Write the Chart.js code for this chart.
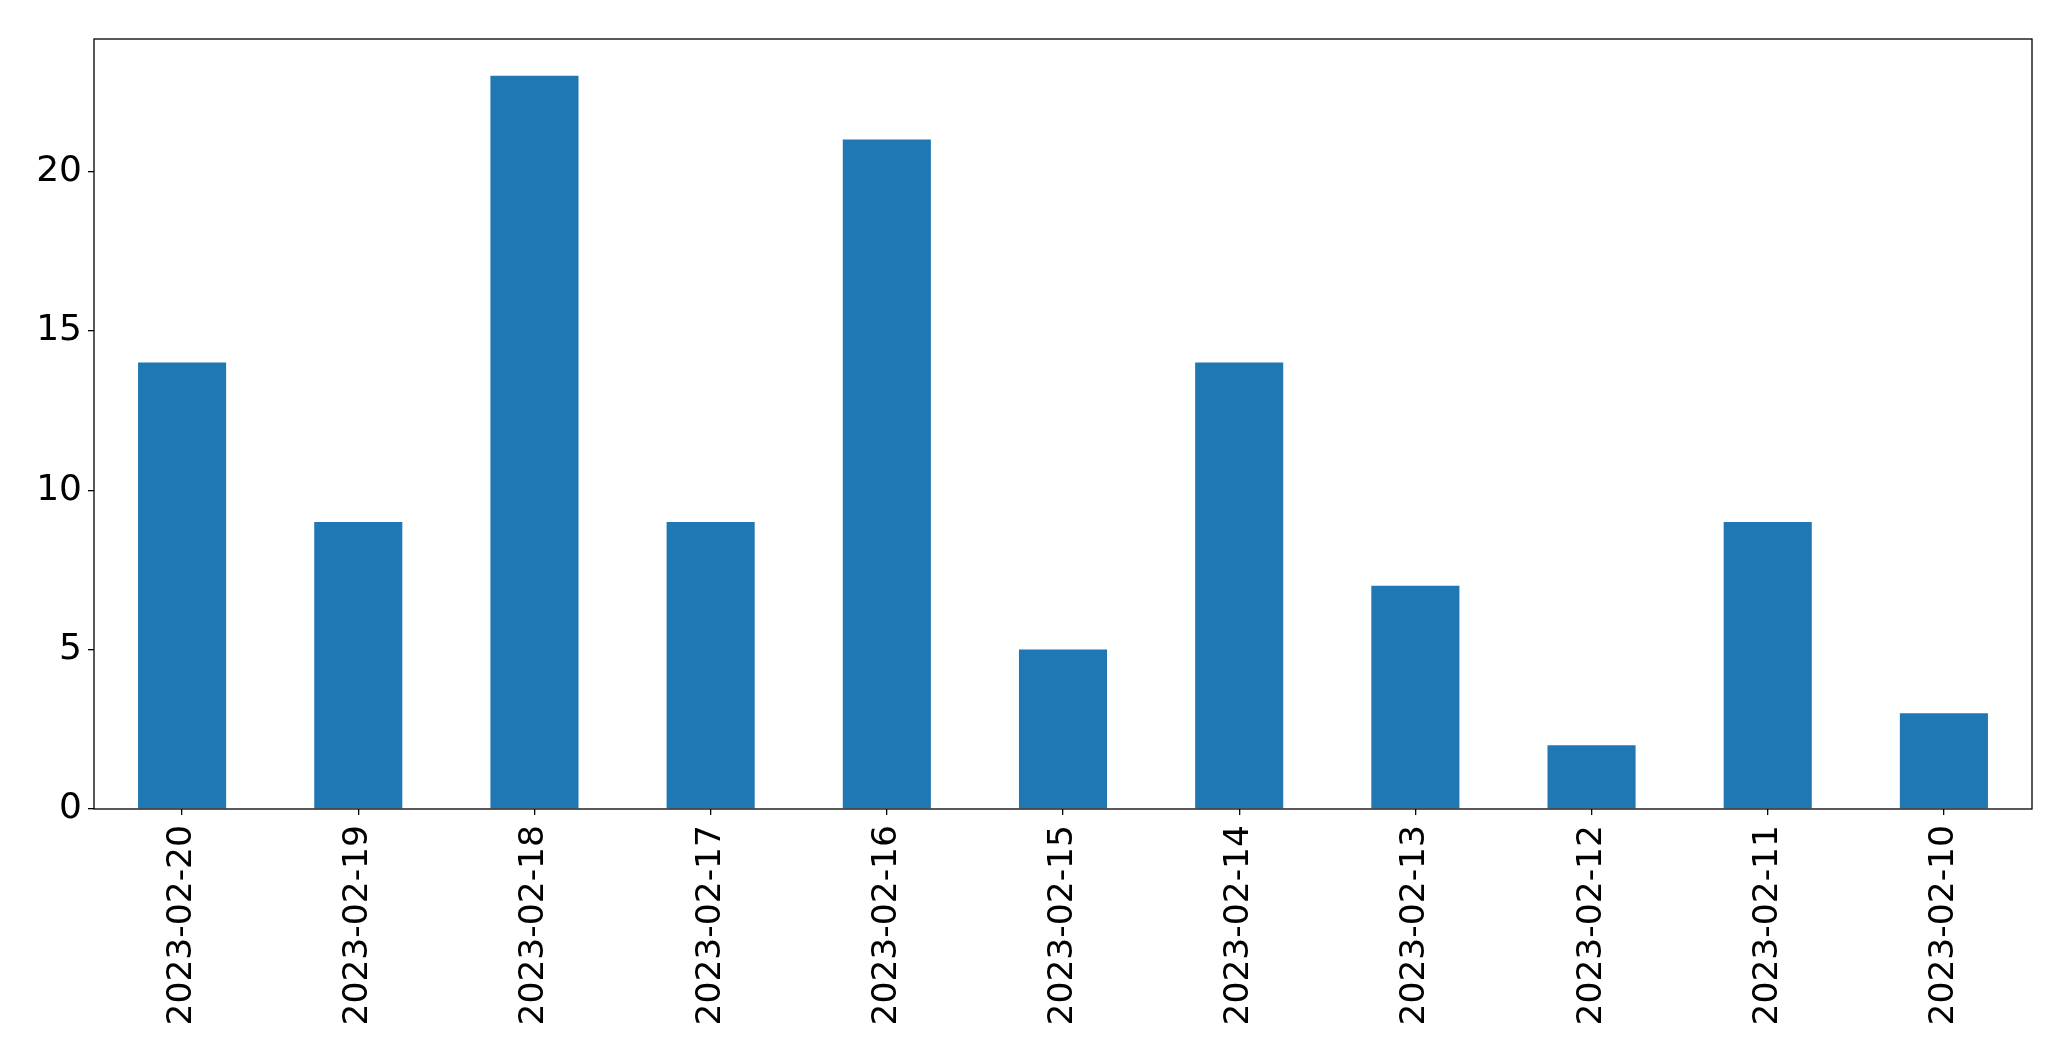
<!DOCTYPE html>
<html>
<head>
<meta charset="utf-8">
<script src="https://cdn.jsdelivr.net/npm/chart.js@4"></script>
<style>
  html, body { margin: 0; padding: 0; background: #fff; }
  canvas { display: block; }
</style>
</head>
<body>
<canvas id="myChart" width="2071" height="1061"></canvas>
<script>
'use strict'

let dates = ['2023-02-20','2023-02-19','2023-02-18','2023-02-17','2023-02-16','2023-02-15',
  '2023-02-14','2023-02-13','2023-02-12','2023-02-11','2023-02-10'];
let counts = [14, 9, 23, 9, 21, 5, 14, 7, 2, 9, 3];
let yTicks = [0, 5, 10, 15, 20];

// box round the plot area, like the matplotlib frame
let frame = {
  id: 'frame',
  afterDraw(chart) {
    let a = chart.chartArea;
    let ctx = chart.ctx;
    ctx.save();
    ctx.strokeStyle = '#000';
    ctx.lineWidth = 1.3;
    ctx.strokeRect(a.left, a.top, a.right - a.left, a.bottom - a.top);
    ctx.restore();
  }
};

Chart.defaults.font.family = 'DejaVu Sans';
Chart.defaults.color = '#000';

let ctx = document.getElementById('myChart').getContext('2d');
let myChart = new Chart(ctx, {
  type: 'bar',
  data: {
    labels: dates,
    datasets: [{
      data: counts,
      backgroundColor: '#1f77b4',
      borderWidth: 0,
      barPercentage: 0.5,
      categoryPercentage: 1
    }]
  },
  options: {
    responsive: false,
    animation: false,
    layout: { padding: { top: 39, right: 39, left: 0, bottom: 0 } },
    plugins: { legend: { display: false }, tooltip: { enabled: false } },
    scales: {
      x: {
        afterFit(scale) { scale.height = 252; },
        grid: { display: true, offset: false, drawOnChartArea: false, drawTicks: true, tickLength: 6, color: '#000', lineWidth: 1.3 },
        border: { display: false },
        ticks: { minRotation: 90, maxRotation: 90, padding: 10, font: { size: 34.5 }, color: '#000', autoSkip: false }
      },
      y: {
        min: 0,
        max: 24.15,
        afterFit(scale) { scale.width = 94; },
        afterBuildTicks(scale) { scale.ticks = yTicks.map(v => ({ value: v })); },
        grid: { display: true, drawOnChartArea: false, drawTicks: true, tickLength: 6, color: '#000', lineWidth: 1.3 },
        border: { display: false },
        ticks: { padding: 6, font: { size: 36 }, color: '#000' }
      }
    }
  },
  plugins: [frame]
});
</script>
</body>
</html>
